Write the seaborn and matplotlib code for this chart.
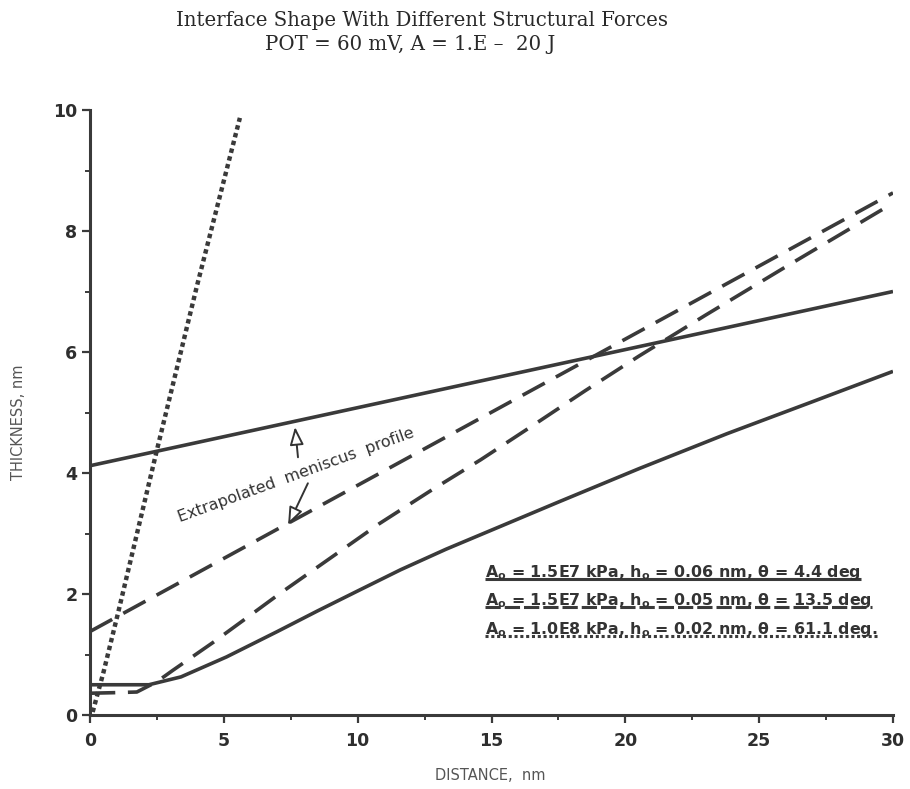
import matplotlib
matplotlib.use("Agg")
import matplotlib.pyplot as plt
import seaborn as sns
import pandas as pd
from matplotlib.ticker import MultipleLocator

sns.set_theme(style="ticks")
plt.rcParams["font.family"] = ["DejaVu Sans"]
plt.rcParams["mathtext.fontset"] = "dejavusans"

# ---------------- data ----------------
title_line1 = "Interface Shape With Different Structural Forces"
title_line2 = "POT = 60 mV, A = 1.E \u2013  20 J"
x_label = "DISTANCE,  nm"
y_label = "THICKNESS, nm"
note_text = "Extrapolated  meniscus  profile"

legend_labels = [
    "A$_\\mathbf{o}$ = 1.5E7 kPa, h$_\\mathbf{o}$ = 0.06 nm, \u03b8 = 4.4 deg",
    "A$_\\mathbf{o}$ = 1.5E7 kPa, h$_\\mathbf{o}$ = 0.05 nm, \u03b8 = 13.5 deg",
    "A$_\\mathbf{o}$ = 1.0E8 kPa, h$_\\mathbf{o}$ = 0.02 nm, \u03b8 = 61.1 deg.",
]

# theta = 4.4 deg (solid)
solid_x = [0.0, 1.0, 2.2, 3.4, 5.1, 7.0, 8.5, 10.0, 11.6, 13.3, 15.4, 17.5,
           20.5, 23.8, 27.0, 30.0]
solid_y = [0.50, 0.50, 0.50, 0.63, 0.96, 1.38, 1.72, 2.05, 2.40, 2.74, 3.13, 3.52,
           4.07, 4.65, 5.18, 5.68]
solid_ext_x = [0.0, 30.0]
solid_ext_y = [4.12, 7.00]

# theta = 13.5 deg (dashed)
dashed_x = [0.0, 1.0, 1.75, 2.5, 3.1, 4.6, 5.9, 7.1, 9.0, 10.8, 12.7, 14.6,
            16.8, 18.5, 20.5, 23.0, 26.0, 30.0]
dashed_y = [0.36, 0.37, 0.38, 0.55, 0.74, 1.20, 1.62, 2.01, 2.60, 3.16, 3.70, 4.22,
            4.86, 5.36, 5.93, 6.61, 7.41, 8.46]
dashed_ext_x = [0.0, 30.0]
dashed_ext_y = [1.38, 8.63]

# theta = 61.1 deg (dotted)
dotted_x = [0.10, 0.50, 1.05, 2.50, 4.00, 5.60]
dotted_y = [0.05, 0.70, 1.69, 4.38, 7.10, 9.87]

# annotation arrows (tail -> head)
arrow_tails = [(7.77, 4.26), (8.14, 3.83)]
arrow_heads = [(7.66, 4.76), (7.40, 3.14)]

x_major = 5
x_minor = 2.5
y_major = 2
y_minor = 1

# ---------------- styling ----------------
INK = "#3a3a3a"
LW = 2.6
SOLID = "-"
DASHED = (0, (7, 3.5))
DOTTED = (0, (1, 0.8))

fig = plt.figure(figsize=(9.10, 7.89), dpi=100)
ax = fig.add_axes([90 / 910, 74 / 789, 803 / 910, 605 / 789])

series = [
    (solid_x, solid_y, SOLID, LW),
    (solid_ext_x, solid_ext_y, SOLID, LW),
    (dashed_x, dashed_y, DASHED, LW),
    (dashed_ext_x, dashed_ext_y, DASHED, LW),
    (dotted_x, dotted_y, DOTTED, 3.2),
]
for xs, ys, ls, lw in series:
    df = pd.DataFrame({"x": xs, "y": ys})
    sns.lineplot(data=df, x="x", y="y", ax=ax, color=INK, linewidth=lw,
                 linestyle=ls, estimator=None, sort=False, legend=False,
                 solid_capstyle="butt", dash_capstyle="butt")

ax.set_xlim(0, 30)
ax.set_ylim(0, 10)
ax.xaxis.set_major_locator(MultipleLocator(x_major))
ax.xaxis.set_minor_locator(MultipleLocator(x_minor))
ax.yaxis.set_major_locator(MultipleLocator(y_major))
ax.yaxis.set_minor_locator(MultipleLocator(y_minor))

for s in ["top", "right"]:
    ax.spines[s].set_visible(False)
for s in ["left", "bottom"]:
    ax.spines[s].set_linewidth(2.2)
    ax.spines[s].set_color(INK)

ax.tick_params(axis="both", which="major", direction="out", length=6, width=1.6,
               color=INK, labelsize=12.5, labelcolor="#2e2e2e", pad=3)
ax.tick_params(axis="x", which="major", pad=6)
ax.tick_params(axis="both", which="minor", direction="out", length=3.5, width=1.4,
               color=INK)
for lab in ax.get_xticklabels() + ax.get_yticklabels():
    lab.set_fontweight("bold")

ax.set_xlabel(x_label, fontsize=10.5, color="#555555")
ax.set_ylabel(y_label, fontsize=10.5, color="#555555")
ax.xaxis.set_label_coords((490 - 90) / 803, (715 - 768) / 605)
ax.yaxis.set_label_coords((26 - 90) / 803, (715 - 422) / 605)

fig.text(422 / 910, 1 - 21 / 789, title_line1, ha="center", va="center",
         family="DejaVu Serif", fontsize=14.2, color="#2a2a2a")
fig.text(410 / 910, 1 - 44 / 789, title_line2, ha="center", va="center",
         family="DejaVu Serif", fontsize=14.2, color="#2a2a2a")

# annotation
ax.text(7.7, 3.97, note_text, rotation=20, rotation_mode="anchor",
        ha="center", va="center", fontsize=11.5, color="#333333")
for tail, head in zip(arrow_tails, arrow_heads):
    ax.annotate("", xy=head, xytext=tail,
                arrowprops=dict(arrowstyle="-|>,head_length=0.9,head_width=0.35",
                                fc="white", ec="#333333", lw=1.4, shrinkA=0, shrinkB=0))

# legend: underlined labels, the underline shows the line style
legend_styles = [SOLID, (0, (5, 1.3)), (0, (1, 0.9))]
baselines = [(715 - 577) / 605, (715 - 605) / 605, (715 - 634) / 605]
texts = []
for lab, yb in zip(legend_labels, baselines):
    t = ax.text((485 - 90) / 803, yb, lab, transform=ax.transAxes, ha="left",
                va="baseline", fontsize=11.4, fontweight="bold",
                family="DejaVu Sans", color="#333333")
    texts.append(t)
fig.canvas.draw()
renderer = fig.canvas.get_renderer()
inv = ax.transAxes.inverted()
for t, ls, yb in zip(texts, legend_styles, baselines):
    bb = t.get_window_extent(renderer).transformed(inv)
    yu = yb - 0.004
    ax.plot([bb.x0, bb.x1], [yu, yu], transform=ax.transAxes, color=INK,
            linewidth=2.2, linestyle=ls, solid_capstyle="butt", dash_capstyle="butt",
            clip_on=False)

fig.savefig("out.png", dpi=100, facecolor="white")
